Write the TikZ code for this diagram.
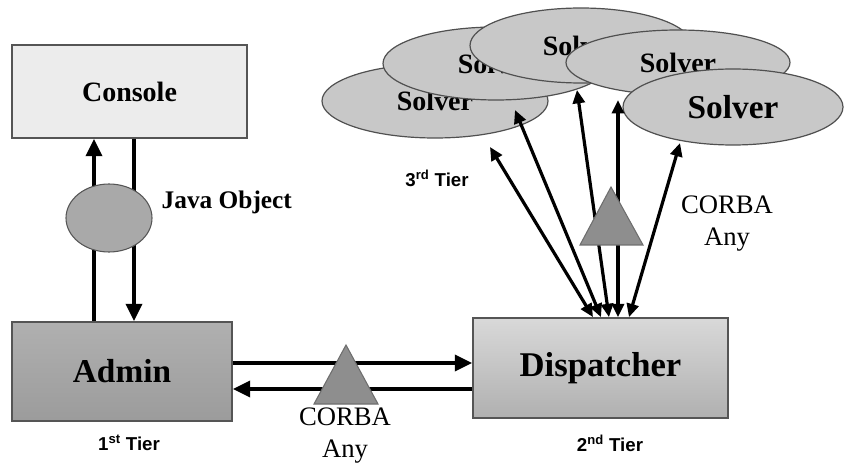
\documentclass[tikz,border=0pt]{standalone}
\usepackage{fontspec}
\setmainfont{Liberation Serif}
\newfontfamily\tierfont{Liberation Sans}
\usetikzlibrary{arrows.meta,shapes.geometric}
\definecolor{boxline}{HTML}{555555}
\definecolor{consolefill}{HTML}{ECECEC}
\definecolor{solverfill}{HTML}{C8C8C8}
\definecolor{solverline}{HTML}{505050}
\definecolor{javafill}{HTML}{A9A9A9}
\definecolor{trifill}{HTML}{8E8E8E}
\definecolor{triline}{HTML}{6E6E6E}
\begin{document}
\begin{tikzpicture}[x=0.75pt,y=-0.75pt,
  box/.style={draw=boxline, line width=1.3pt, inner sep=0pt, font=\bfseries},
  solver/.style={ellipse, draw=solverline, line width=0.9pt, fill=solverfill, inner sep=0pt,
     font=\bfseries\fontsize{21}{24}\selectfont},
  arr/.style={line width=2.8pt, -{Triangle[length=13pt,width=12pt]}},
  darr/.style={line width=2.4pt, {Triangle[length=10pt,width=9pt]}-{Triangle[length=10pt,width=9pt]}},
  tier/.style={font=\tierfont\bfseries\fontsize{14}{16}\selectfont},
  corba/.style={align=center, font=\fontsize{20}{24}\selectfont},
  tri/.style={fill=trifill, draw=triline, line width=0.8pt}
]
\useasboundingbox (0,0) rectangle (844,467);

% ---------- boxes ----------
\node[box, fill=consolefill, minimum width=176.25pt, minimum height=69.75pt,
      font=\bfseries\fontsize{21}{24}\selectfont] (console) at (129.5,91.5) {\raisebox{-1pt}{Console}};
\node[box, top color=gray!62, bottom color=gray!78, minimum width=165pt, minimum height=74.25pt,
      font=\bfseries\fontsize{25}{28}\selectfont] (admin) at (122,371.5) {\raisebox{-3pt}{Admin}};
\node[box, top color=gray!30, bottom color=gray!62, minimum width=191.25pt, minimum height=75pt,
      font=\bfseries\fontsize{26}{30}\selectfont] (disp) at (600.5,368) {\raisebox{-4pt}{Dispatcher}};

% ---------- console <-> admin ----------
\coordinate (upx) at (94,0);
\coordinate (dnx) at (134,0);
\draw[arr] (upx |- admin.north) -- (upx |- console.south);
\draw[arr] (dnx |- console.south) -- (dnx |- admin.north);
\node[ellipse, draw=boxline, line width=0.8pt, fill=javafill, minimum width=64.5pt,
      minimum height=51pt, inner sep=0pt] (java) at (109,218) {};
\node[anchor=west, font=\bfseries\fontsize{19}{22}\selectfont] (javalbl) at (157,202) {Java Object};

% ---------- admin <-> dispatcher ----------
\coordinate (hya) at (0,363);
\coordinate (hyb) at (0,389);
\draw[arr] (admin.east |- hya) -- (disp.west |- hya);
\draw[arr] (disp.west |- hyb) -- (admin.east |- hyb);
\path[tri] (346,345) -- (378,404) -- (314,404) -- cycle;
\node[corba] (corba1) at (345,436) {CORBA\\Any};

% ---------- solvers ----------
\node[solver, minimum width=169.5pt, minimum height=55.5pt] (s1) at (435,101) {\raisebox{-1pt}{Solver}};
\node[solver, minimum width=169.5pt, minimum height=54.75pt] (s2) at (496,63.5) {\raisebox{-2pt}{Solver}};
\node[solver, minimum width=166.5pt, minimum height=56.25pt] (s3) at (581,45.5) {Solver};
\node[solver, minimum width=168pt, minimum height=48.75pt] (s4) at (678,62.5) {Solver};
\node[solver, minimum width=165pt, minimum height=57pt,
      font=\bfseries\fontsize{25}{28}\selectfont] (s5) at (733,107) {\raisebox{-2pt}{Solver}\hspace{6pt}};

% ---------- solver <-> dispatcher ----------
\coordinate (t1) at (490,147);
\coordinate (t2) at (515,110);
\coordinate (t3) at (577,90);
\coordinate (t4) at (618,100);
\coordinate (t5) at (680,143);
\coordinate (b1) at (593,0);
\coordinate (b2) at (601,0);
\coordinate (b3) at (609,0);
\coordinate (b4) at (618,0);
\coordinate (b5) at (629,0);
\draw[darr] (b1 |- disp.north) -- (t1);
\draw[darr] (b2 |- disp.north) -- (t2);
\draw[darr] (b3 |- disp.north) -- (t3);
\draw[darr] (b4 |- disp.north) -- (t4);
\draw[darr] (b5 |- disp.north) -- (t5);
\path[tri] (611,187) -- (643,245) -- (580,245) -- cycle;
\node[corba] (corba2) at (727,224) {CORBA\\Any};

% ---------- tier labels ----------
\node[tier] (tier1) at (129,443) {1\textsuperscript{st} Tier};
\node[tier] (tier2) at (610,443) {2\textsuperscript{nd} Tier};
\node[tier] (tier3) at (437,178) {3\textsuperscript{rd} Tier};
\end{tikzpicture}
\end{document}
